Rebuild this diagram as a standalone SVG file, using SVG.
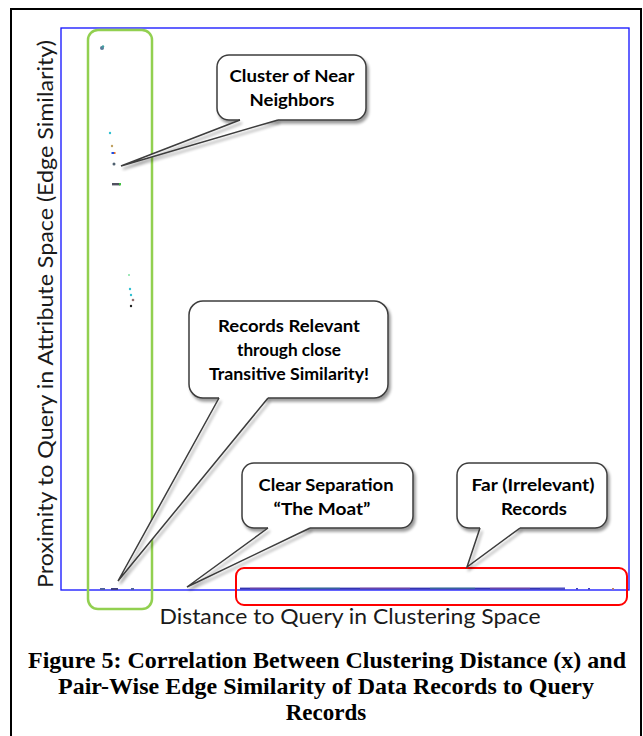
<svg xmlns="http://www.w3.org/2000/svg" width="643" height="736" viewBox="0 0 643 736">
<defs>
<filter id="sh" x="-20%" y="-20%" width="150%" height="150%">
<feGaussianBlur in="SourceAlpha" stdDeviation="1.6"/>
<feOffset dx="2" dy="2.5" result="o"/>
<feComponentTransfer><feFuncA type="linear" slope="0.4"/></feComponentTransfer>
<feMerge><feMergeNode/><feMergeNode in="SourceGraphic"/></feMerge>
</filter>
<style>
.box{fill:#fff;stroke:#3c3c3c;stroke-width:1.5}
.tailfill{fill:#fff;stroke:none}
.tail{fill:none;stroke:#3c3c3c;stroke-width:1.5;stroke-linejoin:miter}
.cl{font-family:Lato,"Open Sans","Liberation Sans",sans-serif;font-weight:bold;font-size:17px;fill:#000;text-anchor:middle}
.ax{font-family:Lato,"Open Sans","Liberation Sans",sans-serif;font-size:21px;fill:#1a1a1a;text-anchor:middle}
.cap{font-family:"Liberation Serif","Times New Roman",serif;font-weight:bold;font-size:23px;fill:#000;text-anchor:middle}
</style>
</defs>
<rect width="643" height="736" fill="#fff"/>
<rect x="11" y="9" width="630" height="740" fill="none" stroke="#000" stroke-width="2"/>
<g id="plot">
<rect x="61" y="28" width="568" height="562" fill="none" stroke="#1010ff" stroke-width="1.3"/>
<g id="points">
<circle cx="102" cy="48" r="2" fill="#5a7a9a"/>
<circle cx="103" cy="46.5" r="1.2" fill="#40a0a0"/>
<circle cx="110" cy="133" r="1.2" fill="#30c0d0"/>
<circle cx="112" cy="146" r="1.2" fill="#c0a060"/>
<rect x="111.5" y="152" width="2.5" height="2" fill="#2050e0"/>
<rect x="114" y="152" width="1.5" height="2" fill="#e07030"/>
<circle cx="114" cy="164" r="1.5" fill="#506070"/>
<rect x="112" y="183" width="8" height="2.4" fill="#505060"/>
<rect x="119" y="183" width="2" height="2.4" fill="#40c040"/>
<circle cx="129" cy="275" r="1" fill="#80e0a0"/>
<circle cx="130" cy="289" r="1.2" fill="#30c0d0"/>
<circle cx="131" cy="295" r="1.2" fill="#30c0d0"/>
<circle cx="133" cy="300" r="1.3" fill="#907070"/>
<circle cx="131" cy="306" r="1.2" fill="#202020"/>
<rect x="100" y="588" width="5" height="2" fill="#5060a0"/>
<rect x="111" y="588" width="7" height="2" fill="#404080"/>
<rect x="131" y="588" width="3" height="2" fill="#5060a0"/>
<rect x="240" y="587.6" width="325" height="2" fill="#3434b0"/>
<rect x="250" y="587.6" width="30" height="1" fill="#c060a0" opacity="0.6"/>
<rect x="300" y="587.6" width="40" height="1" fill="#40b080" opacity="0.6"/>
<rect x="360" y="587.6" width="50" height="1" fill="#c060a0" opacity="0.6"/>
<rect x="430" y="587.6" width="45" height="1" fill="#40b080" opacity="0.6"/>
<rect x="490" y="587.6" width="40" height="1" fill="#c060a0" opacity="0.6"/>
<rect x="540" y="587.6" width="25" height="1" fill="#8080e0" opacity="0.6"/>
<rect x="576" y="588" width="2" height="1.6" fill="#4040c0"/>
<rect x="588" y="588" width="2" height="1.6" fill="#4040c0"/>
<rect x="612" y="588" width="2" height="1.6" fill="#c08060"/>
</g>
<rect id="near-region" x="88" y="30" width="64" height="579" rx="10" fill="none" stroke="#92d050" stroke-width="2.5"/>
<rect id="far-region" x="236" y="568" width="391" height="37" rx="8" fill="none" stroke="#ff0000" stroke-width="2"/>
</g>
<g id="callout-cluster">
<rect class="box" x="217" y="55" width="149" height="65" rx="12" filter="url(#sh)"/>
<text class="cl" x="292" y="82" textLength="125" lengthAdjust="spacingAndGlyphs">Cluster of Near</text>
<text class="cl" x="292" y="106" textLength="85" lengthAdjust="spacingAndGlyphs">Neighbors</text>
</g>
<g id="callout-transitive">
<rect class="box" x="189" y="301" width="199" height="97" rx="14" filter="url(#sh)"/>
<text class="cl" x="289" y="332" textLength="142" lengthAdjust="spacingAndGlyphs">Records Relevant</text>
<text class="cl" x="289" y="356" textLength="104" lengthAdjust="spacingAndGlyphs">through close</text>
<text class="cl" x="289" y="380" textLength="160" lengthAdjust="spacingAndGlyphs">Transitive Similarity!</text>
</g>
<g id="callout-moat">
<rect class="box" x="242" y="463" width="171" height="65" rx="12" filter="url(#sh)"/>
<text class="cl" x="326" y="491" textLength="135" lengthAdjust="spacingAndGlyphs">Clear Separation</text>
<text class="cl" x="322" y="515" textLength="97" lengthAdjust="spacingAndGlyphs">“The Moat”</text>
</g>
<g id="callout-far">
<rect class="box" x="457" y="463" width="150" height="65" rx="12" filter="url(#sh)"/>
<text class="cl" x="533" y="491" textLength="123" lengthAdjust="spacingAndGlyphs">Far (Irrelevant)</text>
<text class="cl" x="534" y="515" textLength="66" lengthAdjust="spacingAndGlyphs">Records</text>
</g>
<g id="connectors">
<polygon class="tailfill" points="240,117 278,117 278,120 121,166 240,120"/>
<polyline class="tail" points="278,120 121,166 240,120" filter="url(#sh)"/>
<polygon class="tailfill" points="219,395 268,395 268,398 118,581 219,398"/>
<polyline class="tail" points="268,398 118,581 219,398" filter="url(#sh)"/>
<polygon class="tailfill" points="268,525 310,525 310,528 187,587 268,528"/>
<polyline class="tail" points="310,528 187,587 268,528" filter="url(#sh)"/>
<polygon class="tailfill" points="480,525 520,525 520,528 467,567 480,528"/>
<polyline class="tail" points="520,528 467,567 480,528" filter="url(#sh)"/>
</g>
<g id="labels">
<text class="ax" x="350" y="624" textLength="381" lengthAdjust="spacingAndGlyphs">Distance to Query in Clustering Space</text>
<text class="ax" transform="translate(53,314) rotate(-90)" x="0" y="0" textLength="548" lengthAdjust="spacingAndGlyphs">Proximity to Query in Attribute Space (Edge Similarity)</text>
</g>
<g id="caption">
<text class="cap" x="327" y="668" textLength="598" lengthAdjust="spacingAndGlyphs">Figure 5: Correlation Between Clustering Distance (x) and</text>
<text class="cap" x="326" y="694" textLength="536" lengthAdjust="spacingAndGlyphs">Pair-Wise Edge Similarity of Data Records to Query</text>
<text class="cap" x="326" y="720">Records</text>
</g>
</svg>
